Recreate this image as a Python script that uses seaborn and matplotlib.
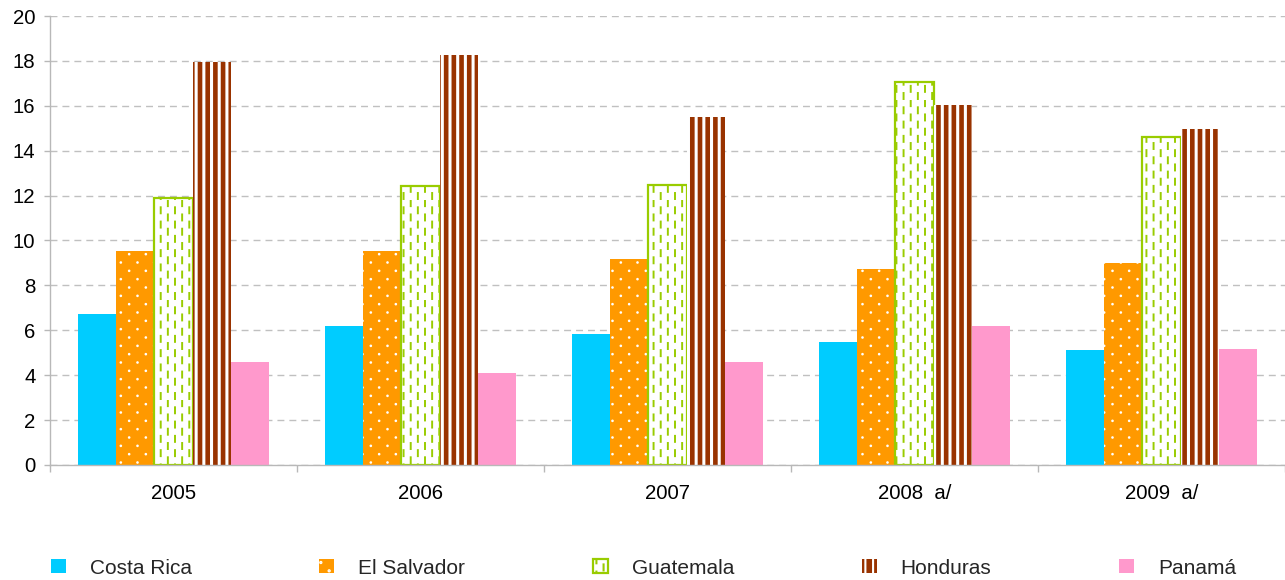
import numpy as np
import pandas as pd
import matplotlib
matplotlib.use("Agg")
import matplotlib.pyplot as plt
import matplotlib.patches as mpatches
import matplotlib.hatch as mhatch
from matplotlib.path import Path
import seaborn as sns

# ---------------- data ----------------
years = ["2005", "2006", "2007", "2008  a/", "2009  a/"]
countries = ["Costa Rica", "El Salvador", "Guatemala", "Honduras", "Panamá"]
costa_rica = [6.73, 6.19, 5.84, 5.48, 5.12]
el_salvador = [9.53, 9.53, 9.17, 8.73, 8.98]
guatemala = [11.90, 12.43, 12.48, 17.05, 14.63]
honduras = [17.95, 18.26, 15.51, 16.04, 14.97]
panama = [4.59, 4.10, 4.59, 6.19, 5.17]
y_ticks = [0, 2, 4, 6, 8, 10, 12, 14, 16, 18, 20]

series = [costa_rica, el_salvador, guatemala, honduras, panama]
df = pd.DataFrame({
    "year": [y for s in series for y in years],
    "country": [c for c, s in zip(countries, series) for _ in s],
    "value": [v for s in series for v in s],
})

# ---------------- custom hatch patterns (style only) ----------------
class StripeHatch(mhatch.HatchPatternBase):
    n = 13
    def __init__(self, hatch, density):
        self.on = hatch.count("|") > 0
        self.num_vertices = self.n * 2 if self.on else 0
    def set_vertices_and_codes(self, vertices, codes):
        xs = (np.arange(self.n) + 0.5) / self.n
        vertices[0::2, 0] = xs
        vertices[0::2, 1] = 0.0
        vertices[1::2, 0] = xs
        vertices[1::2, 1] = 1.0
        codes[0::2] = Path.MOVETO
        codes[1::2] = Path.LINETO

class DashHatch(mhatch.HatchPatternBase):
    ncols, nrows, length = 14, 7, 0.06
    def __init__(self, hatch, density):
        self.on = hatch.count("*") > 0
        self.num_vertices = self.ncols * self.nrows * 2 if self.on else 0
    def set_vertices_and_codes(self, vertices, codes):
        k = 0
        for c in range(self.ncols):
            x = (c + 0.5) / self.ncols
            off = 0.5 / self.nrows if c % 2 else 0.0
            for r in range(self.nrows):
                y0 = r / self.nrows + off + 0.01
                vertices[k] = (x, y0)
                vertices[k + 1] = (x, y0 + self.length)
                codes[k] = Path.MOVETO
                codes[k + 1] = Path.LINETO
                k += 2

class DotHatch(mhatch.HatchPatternBase):
    ncols, nrows, radius = 6, 12, 0.006
    def __init__(self, hatch, density):
        self.on = hatch.count("o") > 0
        circ = Path.unit_circle()
        self.cv = circ.vertices * self.radius
        self.cc = circ.codes
        self.num_vertices = len(self.cv) * self.ncols * self.nrows if self.on else 0
    def set_vertices_and_codes(self, vertices, codes):
        pv, pc = [], []
        for r in range(self.nrows):
            y = (r + 0.5) / self.nrows
            off = 0.5 / self.ncols if r % 2 else 0.0
            for c in range(self.ncols):
                x = (c + 0.25) / self.ncols + off
                pv.append(self.cv + [x, y])
                pc.append(self.cc)
        vertices[:] = np.concatenate(pv)
        codes[:] = np.concatenate(pc)

mhatch._hatch_types[:] = [StripeHatch, DashHatch, DotHatch]

# ---------------- style ----------------
sns.set_style("white")
plt.rcParams["font.family"] = ["Liberation Sans", "DejaVu Sans"]
plt.rcParams["hatch.linewidth"] = 1.5

colors = {"Costa Rica": "#00CCFF", "El Salvador": "#FF9900", "Guatemala": "#FFFFFF",
          "Honduras": "#993300", "Panamá": "#FF99CC"}
# (face, edge/hatch colour, edge lw, hatch, hatch lw)
styles = {
    "Costa Rica": ("#00CCFF", "none", 0, None, 1.0),
    "El Salvador": ("#FF9900", "#FFFFFF", 0, "o", 1.0),
    "Guatemala": ("#FFFFFF", "#99CC00", 1.6, "*", 1.4),
    "Honduras": ("#993300", "#FFFFFF", 0, "|", 2.2),
    "Panamá": ("#FF99CC", "none", 0, None, 1.0),
}

W, H = 1285, 580
fig = plt.figure(figsize=(W / 100, H / 100), dpi=100)
ax = fig.add_axes([50 / W, 1 - 465 / H, 1 - 50 / W, (465 - 16) / H])

sns.barplot(data=df, x="year", y="value", hue="country", order=years,
            hue_order=countries, palette=colors, saturation=1, width=0.77,
            legend=False, ax=ax)

for cont, name in zip(ax.containers, countries):
    fc, ec, lw, hatch, hlw = styles[name]
    for p in cont:
        p.set_facecolor(fc)
        p.set_edgecolor(ec)
        p.set_linewidth(lw)
        if hatch:
            p.set_hatch(hatch)
            if hasattr(p, "set_hatch_linewidth"):
                p.set_hatch_linewidth(hlw)

ax.set_xlim(-0.5, 4.5)
ax.set_ylim(0, 20)
ax.set_yticks(y_ticks)
ax.set_xlabel("")
ax.set_ylabel("")
ax.set_axisbelow(True)
ax.yaxis.grid(True, color="#C0C0C0", linewidth=1.0, linestyle=(0, (5, 3.6)))
ax.xaxis.grid(False)
for s in ["top", "right"]:
    ax.spines[s].set_visible(False)
for s in ["left", "bottom"]:
    ax.spines[s].set_color("#B8B8B8")
    ax.spines[s].set_linewidth(1.0)

ax.set_xticks(np.arange(-0.5, 5.0, 1.0), minor=True)
ax.tick_params(axis="y", length=4.5, width=1, color="#B8B8B8", pad=6,
               labelsize=14.7, labelcolor="black", left=True)
ax.tick_params(axis="x", which="major", length=0, pad=14, labelsize=14.7,
               labelcolor="black")
ax.tick_params(axis="x", which="minor", length=5, width=1, color="#B8B8B8",
               bottom=True)

handles = []
for name in countries:
    fc, ec, lw, hatch, hlw = styles[name]
    hp = mpatches.Patch(facecolor=fc, edgecolor=ec, linewidth=lw, hatch=hatch)
    handles.append(hp)

fig.legend(handles, countries, loc="center left",
           bbox_to_anchor=(51 / W, 1 - 568 / H), bbox_transform=fig.transFigure,
           ncol=5, frameon=False, fontsize=15, handlelength=0.72,
           handleheight=0.62, handletextpad=1.15, columnspacing=6.12,
           borderpad=0, borderaxespad=0)

fig.savefig("out.png", dpi=100)
